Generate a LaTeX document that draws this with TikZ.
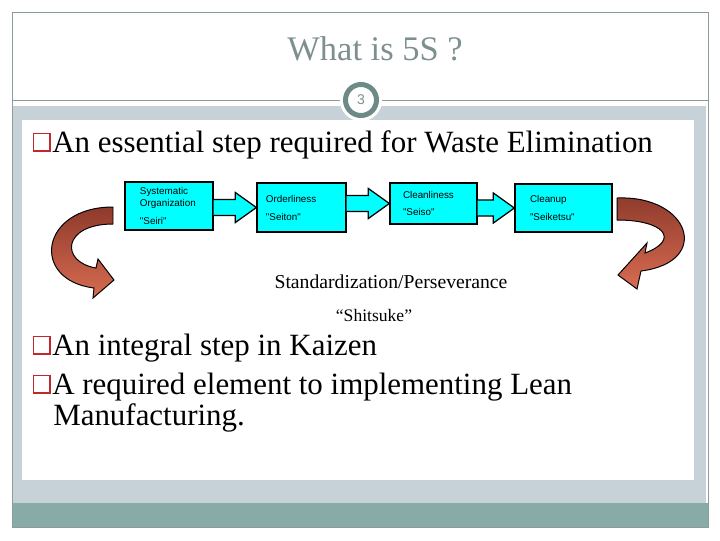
\documentclass[tikz,border=0pt]{standalone}
\usepackage{fontspec}
\setmainfont{Liberation Serif}
\newfontfamily\boxfont{Liberation Sans}
\usepackage{xcolor}
\usetikzlibrary{calc}

\definecolor{frameline}{HTML}{8C9C9C}
\definecolor{bandgray}{HTML}{C6D2D8}
\definecolor{bandteal}{HTML}{88ABA8}
\definecolor{titlegray}{HTML}{7D8F8F}
\definecolor{ringgray}{HTML}{6E8A87}
\definecolor{stepcyan}{HTML}{00FFFF}
\definecolor{bulletred}{HTML}{C0282D}
\definecolor{loopdark}{HTML}{8E3A2C}
\definecolor{looplight}{HTML}{D86C52}

\tikzset{
  stepbox/.style={draw=black, line width=0.9pt, fill=stepcyan, rectangle, align=left,
    inner ysep=1pt, font=\boxfont\fontsize{7}{8.5}\selectfont},
  flowarrow/.style={draw=black, line width=0.9pt, fill=stepcyan, line join=miter},
  loopband/.style={draw=black, line width=0.7pt, top color=loopdark, bottom color=looplight},
  bulletbox/.style={draw=bulletred, line width=1.1pt, minimum width=0.42cm,
    minimum height=0.44cm, inner sep=0pt, anchor=south east},
  item/.style={anchor=base west, inner sep=0pt, font=\fontsize{22}{26}\selectfont},
}

\begin{document}
\begin{tikzpicture}[x=0.025cm, y=-0.025cm]
\useasboundingbox (0,0) rectangle (720,540);
% Slide background
\fill[white] (0,0) rectangle (720,540);
\fill[bandgray] (12,106) rectangle (706,503);
\fill[white] (22,120) rectangle (694,480);
\fill[bandteal] (12,503) rectangle (708,527);
\draw[frameline, line width=0.6pt] (12,12) rectangle (708,527);
\draw[frameline, line width=0.6pt] (12,100) -- (708,100);

% Title and page number
\node[anchor=base, text=titlegray, font=\fontsize{24.5}{28}\selectfont] (title) at (375,60) {What is 5S ?};
\fill[white] (361,100) circle (0.53cm);
\node[circle, draw=ringgray, line width=0.125cm, fill=white, minimum size=0.775cm, inner sep=0pt,
  text=titlegray, font=\boxfont\fontsize{10}{12}\selectfont] (pagenum) at (361,100) {3};

% Bullet points
\node[item] (essential) at (52,152) {An essential step required for Waste Elimination};
\node[item] (kaizen) at (52,355) {An integral step in Kaizen};
\node[item] (lean) at (52,394) {A required element to implementing Lean};
\node[item] (leancont) at (53,425) {Manufacturing.};
\foreach \n in {essential, kaizen, lean}
  \node[bulletbox] (bul-\n) at ($(\n.base west)+(-1,0)$) {};

% The five S steps
\node[stepbox, minimum width=2.2cm, minimum height=1.2cm, text width=1.45cm, inner xsep=0.375cm]
  (seiri) at (169,206) {Systematic\\Organization\\[5pt]"Seiri"};
\node[stepbox, minimum width=2.225cm, minimum height=1.225cm, text width=1.775cm, inner xsep=0.225cm]
  (seiton) at (301.5,207.5) {Orderliness\\[4.3pt]"Seiton"};
\node[stepbox, minimum width=2.175cm, minimum height=1.025cm, text width=1.525cm, inner xsep=0.325cm]
  (seiso) at (433.5,203.5) {Cleanliness\\[4pt]"Seiso"};
\node[stepbox, minimum width=2.425cm, minimum height=1.2cm, text width=1.675cm, inner xsep=0.375cm]
  (seiketsu) at (563.5,208) {Cleanup\\[4pt]"Seiketsu"};

\foreach \a/\b in {seiri/seiton, seiton/seiso, seiso/seiketsu}
  \draw[flowarrow] ($(\a.east |- \b.west)+(0,-8)$) -- ($(\b.west)+(-21,-8)$)
    -- ($(\b.west)+(-21,-15)$) -- (\b.west) -- ($(\b.west)+(-21,15)$)
    -- ($(\b.west)+(-21,8)$) -- ($(\a.east |- \b.west)+(0,8)$);

% Curved return arrows
\shade[loopband] (113,207) .. controls (40,207) and (30,280) .. (94,288) -- (93,298) -- (114,280)
  -- (98,259) -- (96,268) .. controls (60,262) and (62,224) .. (113,224) -- cycle;
\shade[loopband] (617,198) .. controls (690,195) and (712,262) .. (641,271) -- (637,289) -- (618,275)
  -- (647,243) -- (645,253) .. controls (680,240) and (665,220) .. (617,220) -- cycle;

% Fifth S
\node[anchor=base, font=\fontsize{14}{16}\selectfont] (standard) at (391,288) {Standardization/Perseverance};
\node[anchor=base, font=\fontsize{12.5}{15}\selectfont] (shitsuke) at (374,321) {“Shitsuke”};
\end{tikzpicture}
\end{document}
